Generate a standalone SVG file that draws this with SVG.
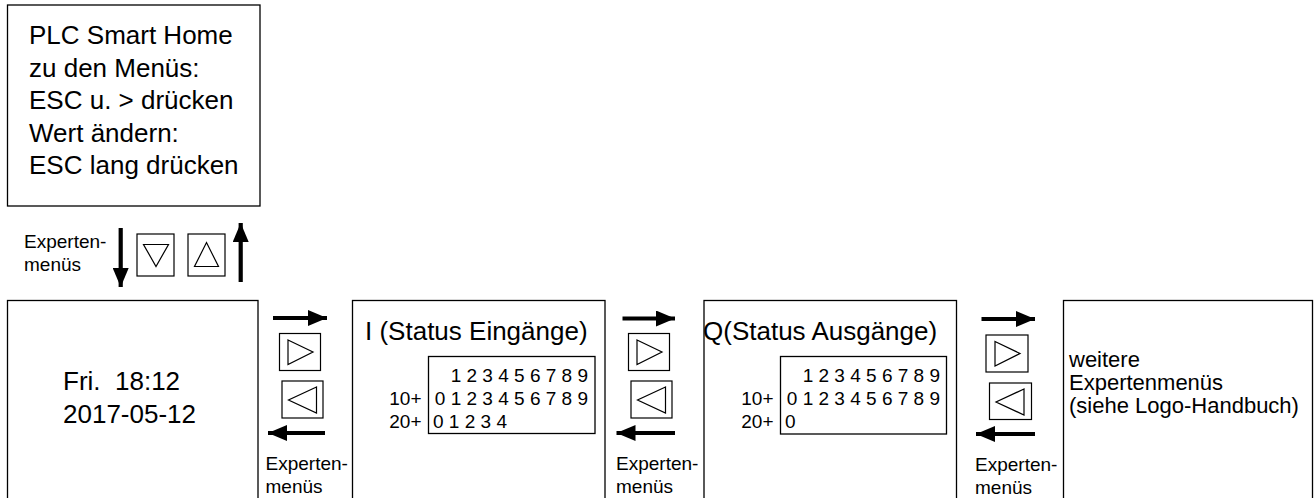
<svg xmlns="http://www.w3.org/2000/svg" width="1314" height="498" viewBox="0 0 1314 498">
<defs>
<style>
.box{fill:#fff;stroke:#000;stroke-width:1.3}
.btn{fill:#fff;stroke:#000;stroke-width:1.2}
.tri{fill:none;stroke:#000;stroke-width:1.2;stroke-linejoin:miter}
.arr{stroke:#000;stroke-width:4.2;fill:none}
text{font-family:"Liberation Sans",Arial,sans-serif;fill:#000}
.big{font-size:26px}
.mid{font-size:22px}
.sm{font-size:19px}
</style>
<marker id="ah" markerUnits="userSpaceOnUse" markerWidth="19" markerHeight="16" refX="19" refY="8" orient="auto">
<path d="M0,0 L19,8 L0,16 Z" fill="#000"/>
</marker>
</defs>
<rect width="1314" height="498" fill="#fff"/>

<g id="start">
<rect class="box" x="7.5" y="5" width="252.5" height="201"/>
<text class="big" x="29" y="44">PLC Smart Home</text>
<text class="big" x="29" y="76.5">zu den Menüs:</text>
<text class="big" x="29" y="109">ESC u. &gt; drücken</text>
<text class="big" x="29" y="141.5">Wert ändern:</text>
<text class="big" x="29" y="174">ESC lang drücken</text>
</g>

<g id="datetime">
<rect class="box" x="7.5" y="300.5" width="250.5" height="210"/>
<text class="big" x="63" y="390" xml:space="preserve">Fri.  18:12</text>
<text class="big" x="63" y="423">2017-05-12</text>
</g>

<g id="inputs">
<rect class="box" x="352.5" y="300.5" width="252.5" height="210"/>
<text class="big" x="365" y="340">I (Status Eingänge)</text>
<rect class="box" x="428.5" y="356.5" width="166.5" height="77"/>
<text class="sm" x="588" y="381.5" text-anchor="end">1 2 3 4 5 6 7 8 9</text>
<text class="sm" x="421.5" y="405" text-anchor="end">10+</text>
<text class="sm" x="588" y="405" text-anchor="end">0 1 2 3 4 5 6 7 8 9</text>
<text class="sm" x="421.5" y="428" text-anchor="end">20+</text>
<text class="sm" x="433" y="428">0 1 2 3 4</text>
</g>

<g id="outputs">
<rect class="box" x="704" y="300.5" width="252.5" height="210"/>
<text class="big" x="703" y="340">Q(Status Ausgänge)</text>
<rect class="box" x="780.5" y="356.5" width="166" height="77.5"/>
<text class="sm" x="940" y="381.5" text-anchor="end">1 2 3 4 5 6 7 8 9</text>
<text class="sm" x="773.5" y="405" text-anchor="end">10+</text>
<text class="sm" x="940" y="405" text-anchor="end">0 1 2 3 4 5 6 7 8 9</text>
<text class="sm" x="773.5" y="428" text-anchor="end">20+</text>
<text class="sm" x="785" y="428">0</text>
</g>

<g id="more">
<rect class="box" x="1063.5" y="300.5" width="249" height="210"/>
<text class="mid" x="1069" y="367">weitere</text>
<text class="mid" x="1069" y="390">Expertenmenüs</text>
<text class="mid" x="1069" y="413">(siehe Logo-Handbuch)</text>
</g>

<g id="buttons">
<rect class="btn" x="137" y="234" width="37" height="42"/>
<path class="tri" d="M143.5,244.5 L168.5,244.5 L156,266.5 Z"/>
<rect class="btn" x="188" y="234" width="37" height="42"/>
<path class="tri" d="M194.5,266.5 L218.5,266.5 L206.5,242.5 Z"/>

<rect class="btn" x="279.5" y="333.5" width="41" height="37"/>
<path class="tri" d="M288,340 L313,352 L288,364.5 Z"/>
<rect class="btn" x="282" y="381" width="41" height="37"/>
<path class="tri" d="M316.5,387 L288.5,400 L316.5,413 Z"/>

<rect class="btn" x="628.5" y="333.5" width="41" height="37"/>
<path class="tri" d="M637,340 L662,352 L637,364.5 Z"/>
<rect class="btn" x="631" y="381" width="41" height="37"/>
<path class="tri" d="M665.5,387 L637.5,400 L665.5,413 Z"/>

<rect class="btn" x="986" y="335" width="42" height="37"/>
<path class="tri" d="M995,341.5 L1020,353.5 L995,366 Z"/>
<rect class="btn" x="989.5" y="383" width="42" height="36.5"/>
<path class="tri" d="M1024,389 L996,402 L1024,415 Z"/>
</g>

<g id="connectors">
<line class="arr" x1="120.7" y1="228" x2="120.7" y2="287" marker-end="url(#ah)"/>
<line class="arr" x1="240.7" y1="282" x2="240.7" y2="223" marker-end="url(#ah)"/>
<line class="arr" x1="273" y1="318" x2="327" y2="318" marker-end="url(#ah)"/>
<line class="arr" x1="325" y1="433" x2="268" y2="433" marker-end="url(#ah)"/>
<line class="arr" x1="622.5" y1="318.5" x2="675" y2="318.5" marker-end="url(#ah)"/>
<line class="arr" x1="675" y1="433" x2="616.5" y2="433" marker-end="url(#ah)"/>
<line class="arr" x1="981.5" y1="319" x2="1035" y2="319" marker-end="url(#ah)"/>
<line class="arr" x1="1035" y1="434" x2="976" y2="434" marker-end="url(#ah)"/>
</g>

<g id="labels">
<text class="sm" x="24" y="248">Experten-</text>
<text class="sm" x="24" y="271">menüs</text>
<text class="sm" x="265.5" y="470">Experten-</text>
<text class="sm" x="265.5" y="493">menüs</text>
<text class="sm" x="616" y="470">Experten-</text>
<text class="sm" x="616" y="493">menüs</text>
<text class="sm" x="975" y="471">Experten-</text>
<text class="sm" x="975" y="494">menüs</text>
</g>
</svg>
